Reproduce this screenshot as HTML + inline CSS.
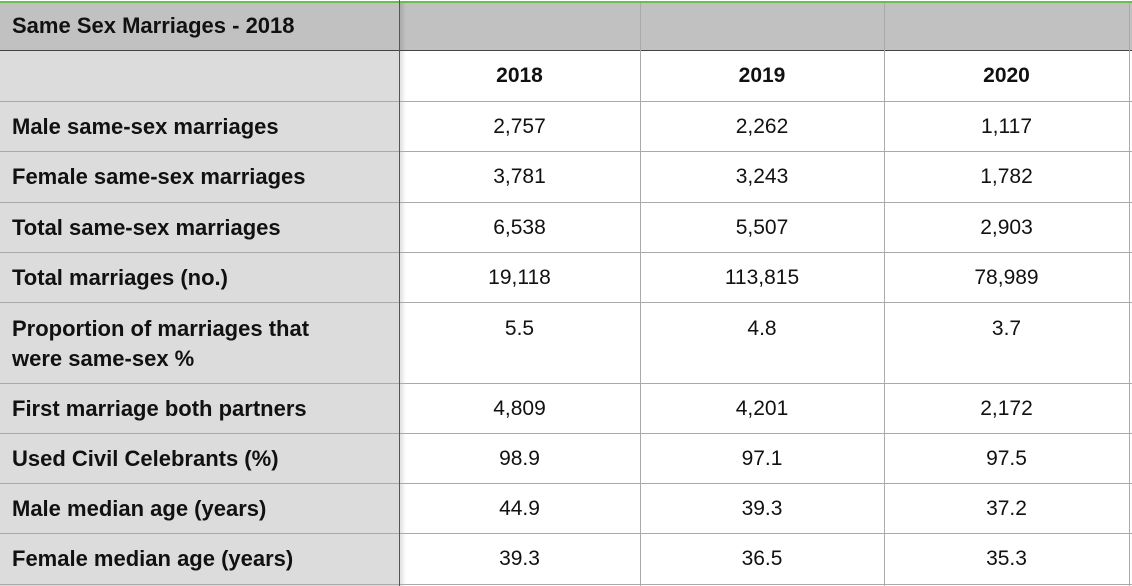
<!DOCTYPE html>
<html><head><meta charset="utf-8"><style>
body{margin:0;width:1132px;height:586px;overflow:hidden;background:#fff;font-family:"Liberation Sans",Arial,sans-serif;position:relative}
.a{position:absolute}
.lab{position:absolute;left:12px;font-weight:bold;font-size:22px;color:#111;line-height:30px}
.v{position:absolute;font-size:21px;color:#111;text-align:center;line-height:30px}
.h{position:absolute;font-size:21px;font-weight:bold;color:#111;text-align:center;line-height:30px}
.hl{position:absolute;left:0;width:1132px;height:1px;background:#aaa}
.vl{position:absolute;top:3px;width:1px;height:583px;background:#aaa}
</style></head><body>
<div class="a" style="left:0;top:1px;width:1132px;height:2px;background:#6cbf4f"></div>
<div class="a" style="left:0;top:3px;width:1132px;height:47px;background:#c0c1c0"></div>
<div class="a" style="left:0;top:50px;width:399px;height:536px;background:#dcdcdc"></div>
<div class="a" style="left:400px;top:3px;width:6px;height:583px;background:linear-gradient(to right,rgba(0,0,0,0.12),rgba(0,0,0,0))"></div>
<div id="lines"></div>
<div class="lab" style="top:11px;font-size:22px">Same Sex Marriages - 2018</div>
<div id="t"></div>
<script>
var rowsY=[50,101,151,202,252,302,383,433,483,533,584];
var lines=document.getElementById('lines');
rowsY.forEach(function(y,i){var d=document.createElement('div');d.className='hl';d.style.top=y+'px';if(i==0){d.style.background='#444';}


lines.appendChild(d);});
[399,640,884,1129].forEach(function(x,i){var d=document.createElement('div');d.className='vl';d.style.left=x+'px';if(i==0){d.style.background='#555';d.style.top='0px';d.style.height='586px';}


lines.appendChild(d);});
var years=['2018','2019','2020'];
var labels=['Male same-sex marriages','Female same-sex marriages','Total same-sex marriages','Total marriages (no.)','Proportion of marriages that<br>were same-sex %','First marriage both partners','Used Civil Celebrants (%)','Male median age (years)','Female median age (years)'];
var c2018=['2,757','3,781','6,538','19,118','5.5','4,809','98.9','44.9','39.3'];
var c2019=['2,262','3,243','5,507','113,815','4.8','4,201','97.1','39.3','36.5'];
var c2020=['1,117','1,782','2,903','78,989','3.7','2,172','97.5','37.2','35.3'];
var colX=[399,640,884],colW=[241,244,245];
var t=document.getElementById('t');
years.forEach(function(y,j){var d=document.createElement('div');d.className='h';d.style.left=colX[j]+'px';d.style.width=colW[j]+'px';d.style.top='61px';d.textContent=y;


t.appendChild(d);});
var cols=[c2018,c2019,c2020];
labels.forEach(function(l,i){var top=rowsY[i+1]+(i==4?12:11);
var d=document.createElement('div');d.className='lab';d.style.top=top+'px';d.innerHTML=l;


t.appendChild(d);
cols.forEach(function(c,j){var v=document.createElement('div');v.className='v';v.style.left=colX[j]+'px';v.style.width=colW[j]+'px';v.style.top=top+'px';v.textContent=c[i];


t.appendChild(v);});});
</script>
</body></html>
